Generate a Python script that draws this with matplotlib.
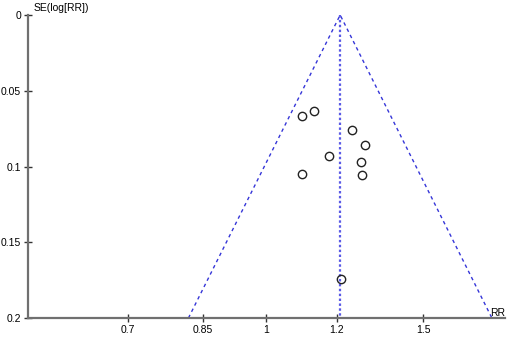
import numpy as np
import matplotlib
matplotlib.use("Agg")
import matplotlib.pyplot as plt
from matplotlib.ticker import FixedLocator, NullLocator

plt.rcParams['font.family'] = ['Liberation Sans', 'DejaVu Sans']

# study estimates
rr = [1.098, 1.133, 1.250, 1.290, 1.177, 1.278, 1.096, 1.282, 1.213]
se = [0.0665, 0.0632, 0.0757, 0.0858, 0.0933, 0.0970, 0.1047, 0.1058, 0.1743]
pooled_rr = 1.211
se_max = 0.2
x_ticks = [0.7, 0.85, 1, 1.2, 1.5]
x_tick_labels = ["0.7", "0.85", "1", "1.2", "1.5"]
y_ticks = [0, 0.05, 0.1, 0.15, 0.2]
y_tick_labels = ["0", "0.05", "0.1", "0.15", "0.2"]

fig = plt.figure(figsize=(5.1, 3.37), dpi=100)
ax = fig.add_axes([28/510, 19/337, 477/510, 303/337])

ax.set_xscale('log')
ax.set_xlim(0.5406, 1.854)
ax.set_ylim(se_max, 0)

lp = np.log(pooled_rr)
ax.plot([np.exp(lp - 1.96*se_max), pooled_rr, np.exp(lp + 1.96*se_max)],
        [se_max, 0, se_max], color='#3535d8', lw=1.0, ls=(0, (2.5, 2.5)), clip_on=False)
ax.plot([pooled_rr, pooled_rr], [0, se_max], color='#5a5ae6', lw=1.6, ls=(0, (1.1, 1.1)),
        clip_on=False)

ax.plot(rr, se, 'o', mfc='none', mec='#222222', mew=1.0, ms=6.0, clip_on=False)

for s in ['top', 'right']:
    ax.spines[s].set_visible(False)
for s in ['left', 'bottom']:
    ax.spines[s].set_color('#707070')
    ax.spines[s].set_linewidth(1.6)

ax.xaxis.set_major_locator(FixedLocator(x_ticks))
ax.set_xticklabels(x_tick_labels)
ax.xaxis.set_minor_locator(NullLocator())
ax.set_yticks(y_ticks)
ax.set_yticklabels(y_tick_labels)
ax.tick_params(axis='both', direction='inout', length=6, width=1.0, color='#333333',
               labelsize=7.5, labelcolor='black', pad=2)

ax.text(0.012, 1.005, 'SE(log[RR])', transform=ax.transAxes, fontsize=7.5,
        ha='left', va='bottom')
ax.text(1.0, 0.0, 'RR', transform=ax.transAxes, fontsize=7.5, ha='right', va='bottom')

fig.savefig('out.png', dpi=100)
